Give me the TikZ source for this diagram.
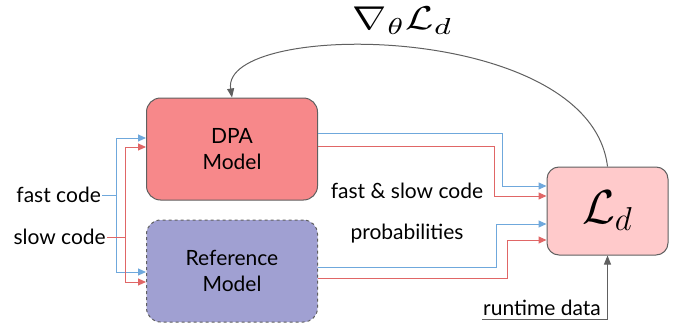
\documentclass[tikz,border=0pt]{standalone}
\usepackage{amsmath}
\usepackage{amssymb}
\usepackage{graphicx}
\usepackage{fontspec}
\setmainfont{Lato}
\usetikzlibrary{arrows.meta}

\definecolor{dpafill}{HTML}{F7888A}
\definecolor{reffill}{HTML}{A0A0D2}
\definecolor{lossfill}{HTML}{FFCACB}
\definecolor{edge}{HTML}{606060}
\definecolor{fastline}{HTML}{6FA8DC}
\definecolor{slowline}{HTML}{E06666}

\tikzset{
	model/.style = {draw = edge, line width = 1pt, rounded corners = 14pt, align = center,
		minimum width = 171pt, minimum height = 102pt, font = \fontsize{21}{26}\selectfont},
	lbl/.style = {font = \fontsize{21}{24}\selectfont, inner sep = 1pt},
	fastarrow/.style = {draw = fastline, line width = 1pt, -{Triangle[length=8pt,width=7pt]}},
	slowarrow/.style = {draw = slowline, line width = 1pt, -{Triangle[length=8pt,width=7pt]}},
	grayarrow/.style = {draw = edge, line width = 1pt, -{Triangle[length=9pt,width=7pt]}}
}

\begin{document}
\begin{tikzpicture}[x = 1pt, y = -1pt]
	\useasboundingbox (0,0) rectangle (683,324);

	\node[model, fill = dpafill] (dpa) at (232,149) {DPA\\Model};
	\node[model, fill = reffill, dashed] (ref) at (232,271) {Reference\\Model};
	\node[model, fill = lossfill, minimum width = 121pt, minimum height = 88pt, rounded corners = 12pt]
		(loss) at (607.5,211) {\scalebox{2.3}{$\mathcal{L}_d$}};

	\node[lbl, anchor = east] (fast) at (102,195) {fast code};
	\node[lbl, anchor = east] (slow) at (107,237) {slow code};
	\node[lbl] (both) at (407,191) {fast \& slow code};
	\node[lbl] (probs) at (407,234) {probabilities};
	\node[lbl, anchor = south] (runtime) at (542,317) {runtime data};
	\node[inner sep = 0pt] (grad) at (403,21) {\scalebox{4.1}[3.3]{$\nabla_\theta \mathcal{L}_d$}};
	\coordinate (rtstart) at (482,319);

	% inputs
	\draw[fastarrow] (fast.east) -| ++(14,0) |- ([yshift=11pt]dpa.west);
	\draw[fastarrow] (fast.east) -- ++(14,0) |- ([yshift=-1pt]ref.west);
	\draw[slowarrow] (slow.east) -- ++(18,0) |- ([yshift=2pt]dpa.west);
	\draw[slowarrow] (slow.east) -- ++(18,0) |- ([yshift=-11pt]ref.west);

	% outputs
	\draw[fastarrow] ([yshift=16pt]dpa.east) -- ++(184.5,0) |- ([yshift=25pt]loss.west);
	\draw[slowarrow] ([yshift=3pt]dpa.east) -- ++(176.5,0) |- ([yshift=15pt]loss.west);
	\draw[fastarrow] ([yshift=4pt]ref.east) -- ++(178.5,0) |- ([yshift=-13pt]loss.west);
	\draw[slowarrow] ([yshift=-7pt]ref.east) -- ++(189.5,0) |- ([yshift=-29pt]loss.west);

	\draw[grayarrow] (rtstart) -- (loss.south |- rtstart) -- (loss.south);
	\draw[grayarrow] (loss.north) .. controls (590,20) and (220,20) .. (dpa.north);
\end{tikzpicture}
\end{document}
